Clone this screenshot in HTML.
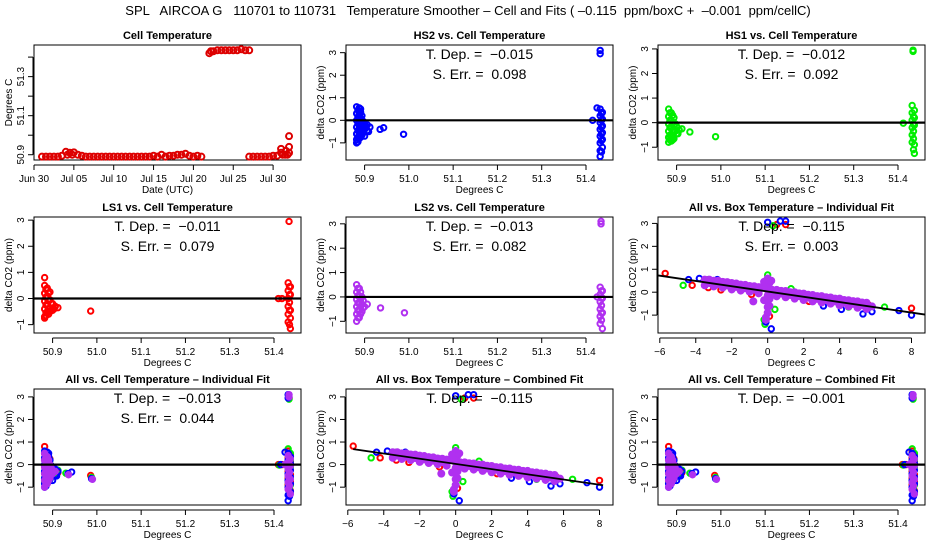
<!DOCTYPE html>
<html><head><meta charset="utf-8"><style>
html,body{margin:0;padding:0;background:#fff;}
svg{display:block;font-family:"Liberation Sans",sans-serif;}
text{white-space:pre;}
</style></head><body>
<svg id="chart" width="936" height="540" viewBox="0 0 936 540">
<text x="468" y="15" text-anchor="middle" font-size="13" xml:space="preserve">SPL   AIRCOA G   110701 to 110731   Temperature Smoother – Cell and Fits ( –0.115  ppm/boxC +  –0.001  ppm/cellC)</text>
</svg>
<script>
// ---------- data ----------
const tempDays = [1,1.5,2,2.5,3,3.5,4,4.5,5,5.5,6,6.5,7,7.5,8,8.5,9,9.5,10,10.5,11,11.5,12,12.5,13,13.5,14,14.5,15,15.5,16,16.5,17,17.5,18,18.5,19,19.5,20,20.5,21,22,22.5,23,23.5,24,24.5,25,25.5,26,26.5,27,27,27.5,28,28.5,29,29.5,30,30.5,31,31,31.5,32,32,32,31.8,4.2,4.8,22.2,31.2,31.6];
const tempVals = [50.89,50.89,50.89,50.89,50.89,50.895,50.915,50.91,50.912,50.9,50.895,50.89,50.89,50.89,50.89,50.89,50.89,50.89,50.89,50.89,50.89,50.89,50.89,50.89,50.89,50.89,50.89,50.89,50.895,50.89,50.9,50.89,50.895,50.895,50.9,50.9,50.905,50.895,50.89,50.895,50.89,51.42,51.43,51.435,51.435,51.435,51.435,51.435,51.435,51.44,51.435,51.435,50.89,50.89,50.89,50.89,50.89,50.89,50.895,50.895,50.93,50.91,50.9,50.995,50.94,50.91,50.9,50.9,50.9,51.43,50.9,50.92];
const dayTicks = [0,5,10,15,20,25,30];
const dayLabels = ["Jun 30","Jul 05","Jul 10","Jul 15","Jul 20","Jul 25","Jul 30"];

const hs2X=[50.882,50.882,50.882,50.882,50.882,50.882,50.882,50.888,50.888,50.888,50.888,50.888,50.888,50.888,50.894,50.894,50.894,50.894,50.894,50.9,50.9,50.9,50.906,50.906,50.912,50.935,50.943,50.988,51.415,51.425,51.432,51.432,51.432,51.432,51.432,51.432,51.432,51.437,51.437,51.437,51.437,51.437,51.437,51.432,51.432,51.432,50.885,50.885,50.885,50.885,50.885,50.885,50.891,50.891,50.891,50.891,50.891,50.891,50.897,50.897,50.897,50.903,50.909,51.435,51.435,51.435,51.435,51.435,51.435];
const hs2Y=[0.6,0.3,0,-0.3,-0.6,-0.85,-1.0,0.55,0.25,-0.05,-0.35,-0.6,-0.8,0.3,0.2,-0.1,-0.4,-0.65,0,-0.15,-0.4,-0.7,-0.2,-0.45,-0.3,-0.4,-0.33,-0.62,0,0.55,0.5,0.2,-0.1,-0.4,-0.7,-1.0,-1.35,0.35,0.05,-0.25,-0.55,-0.85,-1.2,-1.6,3.1,2.95,0.45,0.15,-0.15,-0.45,-0.75,-0.95,0.5,0.1,-0.2,-0.5,-0.75,0.35,-0.05,-0.3,-0.55,-0.3,-0.5,0.3,0,-0.3,-0.6,-0.9,-1.4];
const hs1X=[50.882,50.882,50.882,50.882,50.882,50.882,50.888,50.888,50.888,50.888,50.888,50.894,50.894,50.894,50.894,50.9,50.9,50.906,50.912,50.93,50.988,51.412,51.432,51.432,51.432,51.432,51.432,51.432,51.437,51.437,51.437,51.437,51.437,51.434,51.434,50.885,50.885,50.885,50.885,50.885,50.891,50.891,50.891,50.891,50.891,50.897,50.897,50.903,51.435,51.435,51.435,51.435,51.435];
const hs1Y=[0.55,0.25,-0.05,-0.35,-0.6,-0.8,0.4,0.1,-0.2,-0.5,-0.75,0.2,-0.1,-0.4,-0.65,-0.15,-0.45,-0.3,-0.25,-0.38,-0.57,-0.02,0.7,0.4,0.1,-0.2,-0.5,-0.8,0.5,0.2,-0.1,-0.9,-1.25,2.9,2.95,0.4,0.1,-0.2,-0.5,-0.7,0.3,0,-0.3,-0.55,-0.7,-0.05,-0.35,-0.45,0.25,-0.05,-0.35,-0.65,-1.1];
const ls1X=[50.882,50.882,50.882,50.882,50.882,50.882,50.882,50.888,50.888,50.888,50.888,50.888,50.894,50.894,50.894,50.894,50.9,50.9,50.906,50.912,50.986,51.41,51.418,51.432,51.432,51.432,51.432,51.432,51.432,51.437,51.437,51.437,51.437,51.437,51.434,50.885,50.885,50.885,50.885,50.885,50.891,50.891,50.891,50.891,50.897,50.897,50.903,51.435,51.435,51.435,51.435,51.435];
const ls1Y=[0.8,0.5,0.2,-0.1,-0.4,-0.7,-0.75,0.4,0.1,-0.2,-0.5,-0.55,0.25,-0.05,-0.35,-0.5,-0.2,-0.45,-0.3,-0.35,-0.48,0,0,0.6,0.3,0,-0.3,-0.6,-0.9,0.45,0.15,-0.45,-0.75,-1.15,2.95,0.35,0.05,-0.25,-0.55,-0.65,0.2,-0.1,-0.4,-0.6,-0.2,-0.45,-0.4,0.45,0.15,-0.15,-0.45,-1.0];
const ls2X=[50.882,50.882,50.882,50.882,50.882,50.882,50.888,50.888,50.888,50.888,50.888,50.894,50.894,50.894,50.9,50.906,50.936,50.99,51.425,51.432,51.432,51.432,51.432,51.432,51.432,51.437,51.437,51.437,51.437,51.434,51.434,50.885,50.885,50.885,50.885,50.885,50.891,50.891,50.891,50.891,50.897,50.897,51.435,51.435,51.435,51.435,51.435];
const ls2Y=[0.5,0.2,-0.1,-0.4,-0.7,-1.0,0.35,0.05,-0.25,-0.55,-0.85,0,-0.3,-0.6,-0.4,-0.3,-0.45,-0.65,0,0.4,0.1,-0.2,-0.5,-0.8,-1.1,0.25,-0.05,-0.65,-1.3,3.1,3.0,0.35,0.05,-0.25,-0.55,-0.85,0.2,-0.1,-0.4,-0.7,-0.15,-0.45,0.25,-0.05,-0.35,-0.65,-0.95];

const boxPurpleX=[-3.5,-3.5,-3,-3,-2.5,-2.5,-2,-2,-1.5,-1.5,-1,-1,-0.5,-0.5,0.5,0.5,1,1,1.5,1.5,2,2,2.5,2.5,3,3,3.5,3.5,4,4,4.5,4.5,5,5,5.5,5.5,5.8,-3.25,-2.75,-2.25,-1.75,-1.25,-0.75,0.75,1.25,1.75,2.25,2.75,3.25,3.75,4.25,4.75,5.25,0,0,0,0,0,0,0,-0.1,0.1,-0.1,0.1,0.1,-0.1,-0.8,-3.25,-2.75,-2.25,-1.75,-1.25,-0.75,-0.25,0.25,0.75,1.25,1.75,2.25,2.75,3.25,3.75,4.25,4.75,5.25,-0.2,0.2,-0.2,0.2];
const boxPurpleY=[0.55,0.3,0.5,0.25,0.45,0.2,0.4,0.12,0.33,0.07,0.27,0.02,0.22,-0.05,0.1,-0.18,0.05,-0.22,0,-0.28,-0.06,-0.34,-0.12,-0.4,-0.17,-0.45,-0.23,-0.5,-0.28,-0.57,-0.35,-0.62,-0.4,-0.68,-0.46,-0.73,-0.62,0.4,0.35,0.29,0.23,0.17,0.11,-0.06,-0.12,-0.17,-0.23,-0.29,-0.34,-0.4,-0.46,-0.51,-0.57,0.6,0.35,0.1,-0.15,-0.4,-0.65,-0.9,-1.1,0.4,0.2,-0.3,-0.6,-1.2,-0.4,0.55,0.5,0.44,0.38,0.32,0.26,0.2,0.1,0.06,0,-0.05,-0.11,-0.17,-0.22,-0.28,-0.34,-0.39,-0.45,0.45,-0.1,-0.35,0.5];
const boxBlueX=[-4.4,-3.8,-2.8,0.2,0.7,1,5.3,5.8,7.3,8,3.1,4.1,0,-0.1];
const boxBlueY=[0.55,0.6,0.55,-1.6,3.1,3.1,-0.95,-0.85,-0.8,-1,-0.6,-0.75,3.05,-1.3];
const boxRedX=[-5.7,-4.2,-3.3,-0.9,0,0.1,0.5,1,2.3,4,5.6,8,-2.6];
const boxRedY=[0.82,0.3,0.2,-0.1,-0.9,-1.05,2.95,2.95,-0.4,-0.3,-0.55,-0.7,0.1];
const boxGreenX=[-4.7,-3.3,0,-0.2,0.4,0.3,6.5,4.5,1.3,-0.15];
const boxGreenY=[0.3,0.55,0.75,-1.2,-0.75,2.9,-0.65,-0.65,0.15,-1.4];

const cellTicks=[50.9,51.0,51.1,51.2,51.3,51.4];
const cellTickLabels=["50.9","51.0","51.1","51.2","51.3","51.4"];
const boxTicks=[-6,-4,-2,0,2,4,6,8];
const boxTickLabels=["−6","−4","−2","0","2","4","6","8"];
const co2Ticks=[-1,0,1,2,3];
const co2TickLabels=["−1","0","1","2","3"];
const tempYTicks=[50.9,51.0,51.1,51.2,51.3,51.4];
const tempYLabels=["50.9","","51.1","","51.3",""];
const boxFitSlope=-0.115, boxFitIntercept=0.03;
const cellFitLevel=0;

// ---------- drawing ----------
const NS="http://www.w3.org/2000/svg";
const svg=document.getElementById('chart');
function mk(tag,attrs,parent){const e=document.createElementNS(NS,tag);for(const k in attrs)e.setAttribute(k,attrs[k]);(parent||svg).appendChild(e);return e;}
const COLS=[34,346,658], ROWS=[[45,160],[217,333],[389,505]], W=267;
const COL={red:"#ff0000",green:"#00ee00",blue:"#0000ff",purple:"#b030f0"};

function panel(name,c,r,title,xr,yr){
  const L=COLS[c],R=L+W,T=ROWS[r][0],B=ROWS[r][1];
  const g=mk('g',{});
  
  
  const p={g,L,R,T,B,x:v=>L+(v-xr[0])/(xr[1]-xr[0])*W,y:v=>B-(v-yr[0])/(yr[1]-yr[0])*(B-T)};
  const box=mk('rect',{x:L,y:T,width:W,height:B-T,fill:'none',stroke:'#000','stroke-width':1},g);
  
  
  const t=mk('text',{x:(L+R)/2,y:T-6,'text-anchor':'middle','font-size':11,'font-weight':'bold'},g);
  t.textContent=title;
  
  
  return p;
}
function xAxis(p,ticks,labels,title){
  const ax=mk('g',{},p.g);
  
  
  mk('line',{x1:p.x(ticks[0]),x2:p.x(ticks[ticks.length-1]),y1:p.B+5,y2:p.B+5,stroke:'#000'},ax);
  ticks.forEach((v,i)=>{
    mk('line',{x1:p.x(v),x2:p.x(v),y1:p.B+5,y2:p.B+10,stroke:'#000'},ax);
    const tl=mk('text',{x:p.x(v),y:p.B+22,'text-anchor':'middle','font-size':10},ax);
    tl.textContent=labels[i];
    
    
  });
  const tt=mk('text',{x:(p.L+p.R)/2,y:p.B+33,'text-anchor':'middle','font-size':10},ax);
  tt.textContent=title;
  
  
}
function yAxis(p,ticks,labels,title){
  const ax=mk('g',{},p.g);
  
  
  mk('line',{x1:p.L-1,x2:p.L-1,y1:p.y(ticks[0]),y2:p.y(ticks[ticks.length-1]),stroke:'#000'},ax);
  ticks.forEach((v,i)=>{
    mk('line',{x1:p.L-1,x2:p.L-6,y1:p.y(v),y2:p.y(v),stroke:'#000'},ax);
    if(labels[i]){
      const tl=mk('text',{x:0,y:0,'text-anchor':'middle','font-size':10,transform:`translate(${p.L-10},${p.y(v)}) rotate(-90)`},ax);
      tl.textContent=labels[i];
      
      
    }
  });
  const tt=mk('text',{x:0,y:0,'text-anchor':'middle','font-size':10,transform:`translate(${p.L-22},${(p.T+p.B)/2}) rotate(-90)`},ax);
  tt.textContent=title;
  
  
}
function points(p,xs,ys,color,name,fill,r){
  const g=mk('g',{fill:fill?color:'none',stroke:color,'stroke-width':2},p.g);
  
  
  xs.forEach((v,i)=>{
    const c=mk('circle',{cx:p.x(v),cy:p.y(ys[i]),r:r||2.7},g);
    
    
  });
}
function note(p,lines){
  lines.forEach((s,i)=>{
    const t=mk('text',{x:(p.L+p.R)/2,y:p.T+14+i*20,'text-anchor':'middle','font-size':14,'xml:space':'preserve'},p.g);
    t.textContent=s;
    
    
  });
}
function hline(p,level){
  const l=mk('line',{x1:p.L,x2:p.R,y1:p.y(level),y2:p.y(level),stroke:'#000','stroke-width':2.2},p.g);
  
  
}
function fitLine(p,x0,x1){
  const l=mk('line',{x1:p.x(x0),x2:p.x(x1),y1:p.y(boxFitSlope*x0+boxFitIntercept),y2:p.y(boxFitSlope*x1+boxFitIntercept),stroke:'#000','stroke-width':1.8},p.g);
  
  
}
const CX=[50.858,51.461], BX=[-6.1,8.75];
const Y='delta CO2 (ppm)';

// Panel 1
let p=panel('cell-temperature-panel',0,0,'Cell Temperature',[0,33.5],[50.873,51.462]);
xAxis(p,dayTicks,dayLabels,'Date (UTC)');yAxis(p,tempYTicks,tempYLabels,'Degrees C');
points(p,tempDays,tempVals,'#dd0000','cell-temperature-series',false,3);

function cellPanel(name,c,r,title,yr,series,lines){
  const q=panel(name,c,r,title,CX,yr);
  xAxis(q,cellTicks,cellTickLabels,'Degrees C');yAxis(q,co2Ticks,co2TickLabels,Y);
  series.forEach(s=>points(q,s[0],s[1],s[2],s[3],s[4]));
  hline(q,cellFitLevel);note(q,lines);
}
function boxPanel(name,c,r,title,yr,lines,x0,x1){
  const q=panel(name,c,r,title,BX,yr);
  xAxis(q,boxTicks,boxTickLabels,'Degrees C');yAxis(q,co2Ticks,co2TickLabels,Y);
  points(q,boxRedX,boxRedY,COL.red,'red-series');
  points(q,boxGreenX,boxGreenY,COL.green,'green-series');
  points(q,boxBlueX,boxBlueY,COL.blue,'blue-series');
  points(q,boxPurpleX,boxPurpleY,COL.purple,'purple-series',true,3);
  fitLine(q,x0,x1);note(q,lines);
}
cellPanel('hs2-panel',1,0,'HS2 vs. Cell Temperature',[-1.76,3.34],[[hs2X,hs2Y,COL.blue,'hs2-series']],['T. Dep. =  −0.015','S. Err. =  0.098']);
cellPanel('hs1-panel',2,0,'HS1 vs. Cell Temperature',[-1.52,3.16],[[hs1X,hs1Y,COL.green,'hs1-series']],['T. Dep. =  −0.012','S. Err. =  0.092']);
cellPanel('ls1-panel',0,1,'LS1 vs. Cell Temperature',[-1.32,3.12],[[ls1X,ls1Y,COL.red,'ls1-series']],['T. Dep. =  −0.011','S. Err. =  0.079']);
cellPanel('ls2-panel',1,1,'LS2 vs. Cell Temperature',[-1.48,3.28],[[ls2X,ls2Y,COL.purple,'ls2-series']],['T. Dep. =  −0.013','S. Err. =  0.082']);
boxPanel('all-box-individual-panel',2,1,'All vs. Box Temperature – Individual Fit',[-1.78,3.28],['T. Dep. =  −0.115','S. Err. =  0.003'],-6.1,8.75);
const allSeries=[[ls1X,ls1Y,COL.red,'ls1-series'],[hs1X,hs1Y,COL.green,'hs1-series'],[hs2X,hs2Y,COL.blue,'hs2-series'],[ls2X,ls2Y,COL.purple,'ls2-series',true]];
cellPanel('all-cell-individual-panel',0,2,'All vs. Cell Temperature – Individual Fit',[-1.79,3.35],allSeries,['T. Dep. =  −0.013','S. Err. =  0.044']);
boxPanel('all-box-combined-panel',1,2,'All vs. Box Temperature – Combined Fit',[-1.79,3.35],['T. Dep. =  −0.115'],-5.7,8.2);
cellPanel('all-cell-combined-panel',2,2,'All vs. Cell Temperature – Combined Fit',[-1.79,3.35],allSeries,['T. Dep. =  −0.001']);
</script>
</body></html>
